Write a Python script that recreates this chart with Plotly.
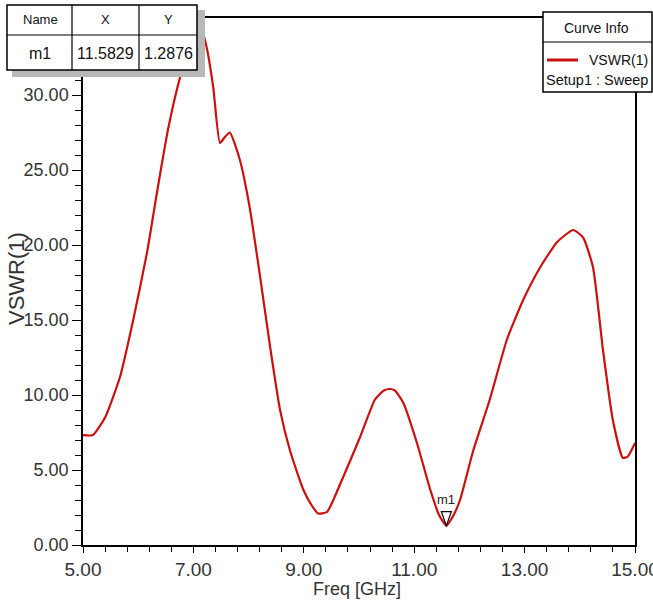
import plotly.graph_objects as go

# ---- data ----
freq = [5.0, 5.18, 5.4, 5.67, 5.91, 6.16, 6.34, 6.54, 6.76, 6.95, 7.08, 7.18, 7.25,
        7.36, 7.48, 7.57, 7.66, 7.84, 8.02, 8.2, 8.39, 8.57, 8.75, 8.99, 9.15, 9.26,
        9.42, 9.71, 10.02, 10.29, 10.45, 10.56, 10.65, 10.8, 11.05, 11.29, 11.45,
        11.5829, 11.7, 11.83, 12.07, 12.37, 12.68, 12.97, 13.28, 13.59, 13.88, 14.06,
        14.24, 14.42, 14.6, 14.78, 14.87, 15.0]
vswr = [7.33, 7.33, 8.5, 11.2, 15.0, 19.5, 23.5, 27.7, 31.2, 33.4, 34.1, 34.0, 33.0,
        30.5, 26.8, 27.2, 27.5, 25.7, 22.5, 18.1, 13.2, 9.0, 6.3, 3.7, 2.6, 2.1,
        2.2, 4.5, 7.2, 9.7, 10.3, 10.4, 10.3, 9.5, 6.8, 3.7, 2.0,
        1.2876, 1.9, 3.0, 6.3, 9.7, 13.7, 16.3, 18.5, 20.2, 21.0, 20.5,
        18.5, 13.0, 8.3, 5.8, 5.9, 6.8]
x_ticks = [5, 7, 9, 11, 13, 15]
x_ticklabels = ["5.00", "7.00", "9.00", "11.00", "13.00", "15.00"]
y_ticks = [0, 5, 10, 15, 20, 25, 30]
y_ticklabels = ["0.00", "5.00", "10.00", "15.00", "20.00", "25.00", "30.00"]
marker_name = "m1"
marker_x = 11.5829
marker_y = 1.2876
trace_name = "VSWR(1)"
setup_name = "Setup1 : Sweep"

W, H = 653, 600
L, R, T, B = 83, 18, 18, 55
PW, PH = W - L - R, H - T - B

def px(x):
    return (x - L) / PW

def py(y):
    return (H - B - y) / PH

FONT = "Liberation Sans, Arial, sans-serif"
RED = "#cc1010"

fig = go.Figure()
fig.add_trace(go.Scatter(x=freq, y=vswr, mode="lines", name=trace_name,
                         line=dict(color=RED, width=2.2, shape="spline", smoothing=0.5),
                         showlegend=False, hoverinfo="x+y"))

shapes = []
annotations = []

# marker m1 (inverted open triangle, tip on the curve)
shapes.append(dict(type="path", xref="x", yref="y", xsizemode="pixel", ysizemode="pixel",
                   xanchor=marker_x, yanchor=marker_y,
                   path="M-5,14 L5,14 L0,0 Z", line=dict(color="black", width=1.2),
                   fillcolor="rgba(0,0,0,0)", layer="above"))
annotations.append(dict(x=marker_x, y=marker_y, xref="x", yref="y", text=marker_name,
                        showarrow=False, yshift=26, font=dict(family=FONT, size=13, color="#222")))

# marker table (shadow + box)
shapes.append(dict(type="rect", xref="paper", yref="paper", x0=px(12), x1=px(205),
                   y0=py(77), y1=py(10), fillcolor="#b8b8b8", line=dict(width=0), layer="above"))
shapes.append(dict(type="rect", xref="paper", yref="paper", x0=px(7), x1=px(197),
                   y0=py(70), y1=py(5), fillcolor="white", line=dict(color="black", width=1.5), layer="above"))
shapes.append(dict(type="line", xref="paper", yref="paper", x0=px(7), x1=px(197),
                   y0=py(35), y1=py(35), line=dict(color="black", width=1.2), layer="above"))
for cx in (72, 139):
    shapes.append(dict(type="line", xref="paper", yref="paper", x0=px(cx), x1=px(cx),
                       y0=py(70), y1=py(5), line=dict(color="black", width=1.2), layer="above"))
for txt, cx, cy, sz in [("Name", 40, 20, 13), ("X", 105, 20, 13), ("Y", 168, 20, 13),
                        (marker_name, 40, 53, 16), (f"{marker_x:.4f}", 105, 53, 16),
                        (f"{marker_y:.4f}", 168, 53, 16)]:
    annotations.append(dict(x=px(cx), y=py(cy), xref="paper", yref="paper", text=txt,
                            showarrow=False, xanchor="center", yanchor="middle",
                            font=dict(family=FONT, size=sz, color="#111")))

# curve info box
shapes.append(dict(type="rect", xref="paper", yref="paper", x0=px(543), x1=px(652),
                   y0=py(92), y1=py(12), fillcolor="white", line=dict(color="black", width=1.5), layer="above"))
shapes.append(dict(type="line", xref="paper", yref="paper", x0=px(543), x1=px(652),
                   y0=py(42), y1=py(42), line=dict(color="black", width=1.2), layer="above"))
shapes.append(dict(type="line", xref="paper", yref="paper", x0=px(547), x1=px(578),
                   y0=py(60), y1=py(60), line=dict(color=RED, width=3), layer="above"))
annotations.append(dict(x=px(596), y=py(28), xref="paper", yref="paper", text="Curve Info",
                        showarrow=False, xanchor="center", yanchor="middle",
                        font=dict(family=FONT, size=14, color="#111")))
annotations.append(dict(x=px(650), y=py(60), xref="paper", yref="paper", text=trace_name,
                        showarrow=False, xanchor="right", yanchor="middle",
                        font=dict(family=FONT, size=14, color="#111")))
annotations.append(dict(x=px(650), y=py(80), xref="paper", yref="paper", text=setup_name,
                        showarrow=False, xanchor="right", yanchor="middle",
                        font=dict(family=FONT, size=14.5, color="#111")))

# axis titles
annotations.append(dict(x=px(16), y=py(279), xref="paper", yref="paper", text="VSWR(1)",
                        showarrow=False, textangle=-90, xanchor="center", yanchor="middle",
                        font=dict(family=FONT, size=22, color="#333")))
annotations.append(dict(x=px(357), y=py(589), xref="paper", yref="paper", text="Freq [GHz]",
                        showarrow=False, xanchor="center", yanchor="middle",
                        font=dict(family=FONT, size=18, color="#333")))

fig.update_layout(
    width=W, height=H, margin=dict(l=L, r=R, t=T, b=B, autoexpand=False),
    paper_bgcolor="white", plot_bgcolor="white",
    shapes=shapes, annotations=annotations, showlegend=False,
    xaxis=dict(range=[5, 15], tickvals=x_ticks, ticktext=x_ticklabels, automargin=False,
               showgrid=False, zeroline=False, showline=True, linecolor="black", linewidth=1.5,
               mirror=True, ticks="outside", ticklen=6, tickcolor="black",
               ticklabeloverflow="allow", ticklabelstandoff=0,
               minor=dict(dtick=0.4, tick0=5, ticks="outside", ticklen=5, tickcolor="black"),
               tickfont=dict(family=FONT, size=19, color="#333")),
    yaxis=dict(range=[0, (H - B - T) / 15.0], tickvals=y_ticks, ticktext=y_ticklabels,
               automargin=False,
               showgrid=False, zeroline=False, showline=True, linecolor="black", linewidth=1.5,
               mirror=True, ticks="outside", ticklen=9, tickcolor="black",
               ticklabeloverflow="allow",
               minor=dict(dtick=1, ticks="outside", ticklen=6, tickcolor="black"),
               tickfont=dict(family=FONT, size=18, color="#333")),
)

fig.write_html("out.html")
